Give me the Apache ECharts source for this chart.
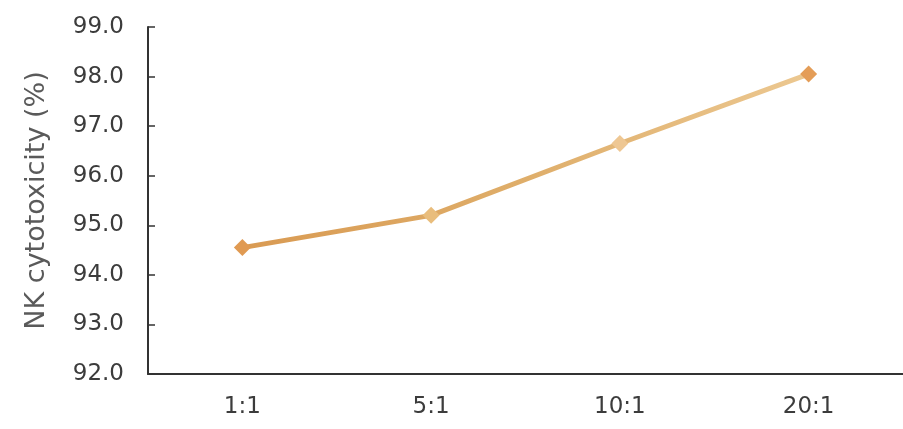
<!DOCTYPE html>
<html>
<head>
<meta charset="utf-8">
<script src="https://cdn.jsdelivr.net/npm/echarts@6/dist/echarts.min.js"></script>
<style>
  html, body { margin: 0; padding: 0; background: #fff; }
  #chart { width: 903px; height: 429px; }
</style>
</head>
<body>
<div id="chart"></div>
<script>
// Effector : target ratios
const ratios = ['1:1', '5:1', '10:1', '20:1'];
// NK cytotoxicity (%) at each ratio
const cytotoxicity = [94.55, 95.2, 96.65, 98.05];
// marker fill for each point
const markerColors = ['#e09a52', '#e9bd7c', '#eec793', '#e49d58'];

const FONT = '"DejaVu Sans", Lato, sans-serif';

const chart = echarts.init(document.getElementById('chart'), null, { renderer: 'canvas' });

chart.setOption({
  animation: false,
  backgroundColor: '#ffffff',
  grid: { left: 148, right: 0, top: 27, bottom: 55, containLabel: false },
  xAxis: {
    type: 'category',
    data: ratios,
    boundaryGap: true,
    axisLine: { lineStyle: { color: '#333', width: 2 } },
    axisTick: { inside: true, length: 7, lineStyle: { color: '#333', width: 1.5 } },
    axisLabel: { color: '#3c3c3c', fontSize: 23, fontFamily: FONT, margin: 22 },
    splitLine: { show: false }
  },
  yAxis: {
    type: 'value',
    min: 92,
    max: 99,
    interval: 1,
    name: 'NK cytotoxicity (%)',
    nameLocation: 'middle',
    nameGap: 98,
    nameRotate: 90,
    nameTextStyle: { color: '#5a5a5a', fontSize: 27, fontFamily: FONT },
    axisLine: { show: true, lineStyle: { color: '#333', width: 2 } },
    axisTick: { show: true, inside: true, length: 7, lineStyle: { color: '#333', width: 1.5 } },
    axisLabel: {
      color: '#3c3c3c', fontSize: 23, fontFamily: FONT, margin: 24,
      formatter: v => v.toFixed(1)
    },
    splitLine: { show: false }
  },
  series: [{
    type: 'line',
    data: cytotoxicity.map((v, i) => ({ value: v, itemStyle: { color: markerColors[i] } })),
    symbol: 'diamond',
    symbolSize: 17,
    lineStyle: {
      width: 5,
      color: new echarts.graphic.LinearGradient(0, 0, 1, 0, [
        { offset: 0, color: '#d99a52' },
        { offset: 0.5, color: '#dfae6a' },
        { offset: 1, color: '#ecc891' }
      ])
    },
    itemStyle: { borderWidth: 0 }
  }]
});
</script>
</body>
</html>
